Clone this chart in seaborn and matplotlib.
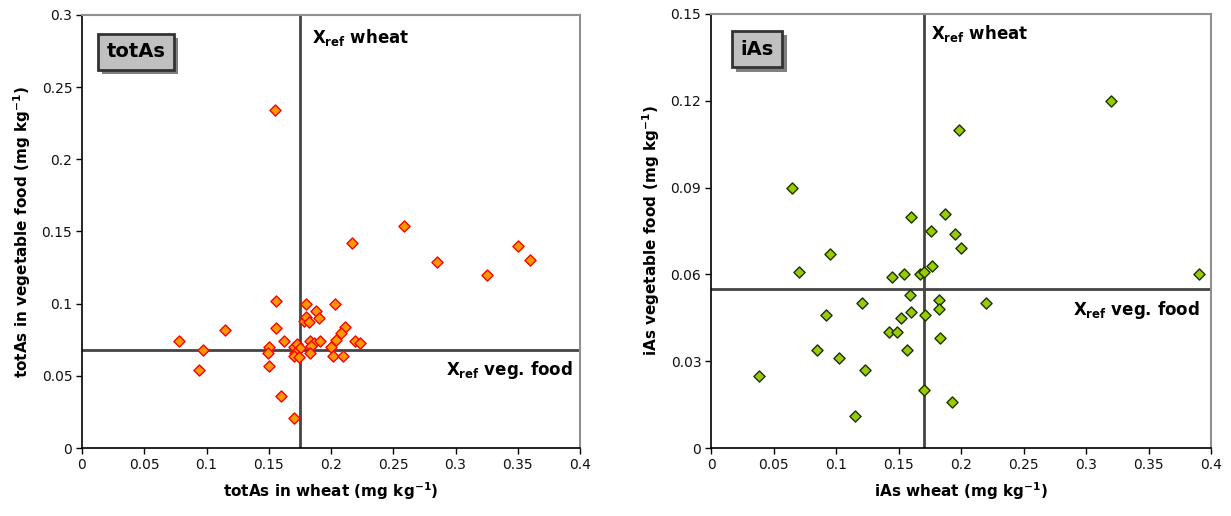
import matplotlib
matplotlib.use("Agg")
import matplotlib.pyplot as plt
import matplotlib.patheffects as pe
from matplotlib.ticker import FuncFormatter
import seaborn as sns
import pandas as pd

# ---- data: totAs (left panel) ----
tot_wheat = [0.155, 0.078, 0.097, 0.094, 0.115, 0.156, 0.156, 0.162, 0.150, 0.149,
             0.150, 0.160, 0.170, 0.170, 0.173, 0.175, 0.171, 0.170, 0.174, 0.180,
             0.178, 0.180, 0.182, 0.188, 0.190, 0.203, 0.211, 0.208, 0.204, 0.183,
             0.186, 0.191, 0.184, 0.183, 0.200, 0.202, 0.210, 0.219, 0.223, 0.217,
             0.259, 0.285, 0.325, 0.350, 0.360]
tot_veg = [0.234, 0.074, 0.068, 0.054, 0.082, 0.102, 0.083, 0.074, 0.070, 0.066,
           0.057, 0.036, 0.021, 0.070, 0.072, 0.069, 0.066, 0.064, 0.063, 0.100,
           0.088, 0.091, 0.087, 0.095, 0.090, 0.100, 0.084, 0.080, 0.075, 0.074,
           0.073, 0.074, 0.071, 0.066, 0.070, 0.064, 0.064, 0.074, 0.073, 0.142,
           0.154, 0.129, 0.120, 0.140, 0.130]
tot_ref_wheat = 0.175
tot_ref_veg = 0.068

# ---- data: iAs (right panel) ----
i_wheat = [0.198, 0.065, 0.160, 0.187, 0.176, 0.195, 0.200, 0.095, 0.070, 0.177,
           0.145, 0.154, 0.167, 0.170, 0.320, 0.390, 0.159, 0.121, 0.092, 0.182,
           0.182, 0.220, 0.160, 0.152, 0.171, 0.142, 0.149, 0.183, 0.085, 0.157,
           0.102, 0.123, 0.038, 0.170, 0.193, 0.115]
i_veg = [0.110, 0.090, 0.080, 0.081, 0.075, 0.074, 0.069, 0.067, 0.061, 0.063,
         0.059, 0.060, 0.060, 0.061, 0.120, 0.060, 0.053, 0.050, 0.046, 0.051,
         0.048, 0.050, 0.047, 0.045, 0.046, 0.040, 0.040, 0.038, 0.034, 0.034,
         0.031, 0.027, 0.025, 0.020, 0.016, 0.011]
i_ref_wheat = 0.17
i_ref_veg = 0.055

x_ticks_left = [0, 0.05, 0.1, 0.15, 0.2, 0.25, 0.3, 0.35, 0.4]
y_ticks_left = [0, 0.05, 0.1, 0.15, 0.2, 0.25, 0.3]
x_ticks_right = [0, 0.05, 0.1, 0.15, 0.2, 0.25, 0.3, 0.35, 0.4]
y_ticks_right = [0, 0.03, 0.06, 0.09, 0.12, 0.15]

sns.set_theme(style="white")
plt.rcParams['font.family'] = ['DejaVu Sans']
plt.rcParams['text.color'] = 'black'
plt.rcParams['axes.labelcolor'] = 'black'
plt.rcParams['xtick.color'] = 'black'
plt.rcParams['ytick.color'] = 'black'

fig = plt.figure(figsize=(12.31, 5.16), dpi=100)
ax1 = fig.add_axes([82/1231, 1-448/516, 498/1231, 433/516])
ax2 = fig.add_axes([711/1231, 1-448/516, 500/1231, 434/516])

fmt = FuncFormatter(lambda v, p: "%g" % round(v, 4))


def style(ax, xt, yt, xl, yl):
    ax.set_xlim(xt[0], xt[-1])
    ax.set_ylim(yt[0], yt[-1])
    ax.set_xticks(xt)
    ax.set_yticks(yt)
    ax.xaxis.set_major_formatter(fmt)
    ax.yaxis.set_major_formatter(fmt)
    ax.tick_params(axis='both', direction='out', length=4, width=1, color='black',
                   labelsize=10, labelcolor='#111111', bottom=True, left=True, pad=3)
    for s in ['left', 'bottom']:
        ax.spines[s].set_color('black')
        ax.spines[s].set_linewidth(1.2)
    for s in ['top', 'right']:
        ax.spines[s].set_color('#909090')
        ax.spines[s].set_linewidth(1.5)
    ax.set_xlabel(xl, fontsize=11, fontweight='bold', labelpad=6, color='black')
    ax.set_ylabel(yl, fontsize=11, fontweight='bold', labelpad=6, color='black')


def boxlabel(ax, txt, x, y):
    t = ax.text(x, y, txt, transform=ax.transAxes, ha='center', va='center',
                fontsize=14, fontweight='bold', color='black',
                bbox=dict(boxstyle='square,pad=0.45', facecolor='#C0C0C0',
                          edgecolor='#333333', linewidth=2))
    t.get_bbox_patch().set_path_effects([
        pe.SimplePatchShadow(offset=(3, -3), shadow_rgbFace='#808080', alpha=1),
        pe.Normal()])


df1 = pd.DataFrame({"x": tot_wheat, "y": tot_veg})
df2 = pd.DataFrame({"x": i_wheat, "y": i_veg})

# left panel
ax1.axvline(tot_ref_wheat, color='#444444', lw=2, zorder=1)
ax1.axhline(tot_ref_veg, color='#444444', lw=2, zorder=1)
sns.scatterplot(data=df1, x="x", y="y", ax=ax1, marker='D', s=32,
                color='#FF9900', edgecolor='#FF0000', linewidth=1.0, zorder=3)
style(ax1, x_ticks_left, y_ticks_left,
      r"totAs in wheat (mg kg$^{\mathbf{-1}}$)",
      r"totAs in vegetable food (mg kg$^{\mathbf{-1}}$)")
boxlabel(ax1, "totAs", 0.108, 0.915)
ax1.text(0.462, 0.947, r"X$_{\mathbf{ref}}$ wheat", transform=ax1.transAxes,
         ha='left', va='center', fontsize=12, fontweight='bold', color='black')
ax1.text(0.986, 0.18, r"X$_{\mathbf{ref}}$ veg. food", transform=ax1.transAxes,
         ha='right', va='center', fontsize=12, fontweight='bold', color='black')

# right panel
ax2.axvline(i_ref_wheat, color='#444444', lw=2, zorder=1)
ax2.axhline(i_ref_veg, color='#444444', lw=2, zorder=1)
sns.scatterplot(data=df2, x="x", y="y", ax=ax2, marker='D', s=32,
                color='#99CC00', edgecolor='#1A3300', linewidth=1.0, zorder=3)
style(ax2, x_ticks_right, y_ticks_right,
      r"iAs wheat (mg kg$^{\mathbf{-1}}$)",
      r"iAs vegetable food (mg kg$^{\mathbf{-1}}$)")
boxlabel(ax2, "iAs", 0.092, 0.919)
ax2.text(0.44, 0.954, r"X$_{\mathbf{ref}}$ wheat", transform=ax2.transAxes,
         ha='left', va='center', fontsize=12, fontweight='bold', color='black')
ax2.text(0.978, 0.318, r"X$_{\mathbf{ref}}$ veg. food", transform=ax2.transAxes,
         ha='right', va='center', fontsize=12, fontweight='bold', color='black')

fig.savefig("out.png", dpi=100, facecolor='white')
